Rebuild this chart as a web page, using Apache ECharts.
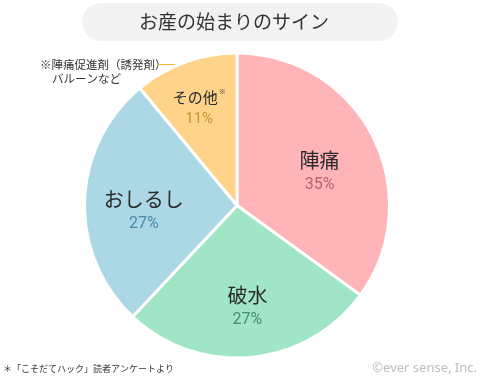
<!DOCTYPE html>
<html lang="ja">
<head>
<meta charset="UTF-8">
<title>お産の始まりのサイン</title>
<script src="https://cdn.jsdelivr.net/npm/echarts@6/dist/echarts.min.js"></script>
<style>
  html, body { margin: 0; padding: 0; background: #fff; }
  #chart { width: 480px; height: 376px; }
</style>
</head>
<body>
<div id="chart"></div>
<script>
  // データ（時計回り、12時から）
  const names = ['陣痛', '破水', 'おしるし', 'その他'];
  const values = [35, 27, 27, 11];
  const sliceColors = ['#ffb4b8', '#a0e5c5', '#acd8e6', '#ffd389'];
  const pctColors = ['#b9606c', '#3f8f6b', '#4a89a6', '#c69433'];
  // ラベル位置の微調整
  const labelShift = [[12, 2], [3, 23], [-14, 8], [-11, -22]];

  const jp = '"Noto Sans CJK JP", "Noto Sans", sans-serif';
  const num = 'Roboto, "Liberation Sans", sans-serif';

  const chart = echarts.init(document.getElementById('chart'));

  chart.setOption({
    animation: false,
    graphic: [
      { type: 'rect', shape: { x: 82, y: 3, width: 316, height: 38, r: 19 }, style: { fill: '#f2f2f2' } },
      { type: 'text', x: 234, y: 22, style: { text: 'お産の始まりのサイン', font: '19px ' + jp, fill: '#333', align: 'center', verticalAlign: 'middle' } },
      { type: 'text', x: 40, y: 65, style: { text: '※陣痛促進剤（誘発剤）', font: '11.5px ' + jp, fill: '#333', verticalAlign: 'middle' } },
      { type: 'text', x: 52, y: 79, style: { text: 'バルーンなど', font: '11.5px ' + jp, fill: '#333', verticalAlign: 'middle' } },
      { type: 'polyline', shape: { points: [[158, 64.5], [182, 64.5], [187, 68.5]] }, style: { stroke: '#f0b43c', lineWidth: 1, fill: null } },
      { type: 'text', x: 3, y: 369, style: { text: '＊「こそだてハック」読者アンケートより', font: '9px ' + jp, fill: '#333', verticalAlign: 'middle' } },
      { type: 'text', x: 477, y: 368, style: { text: '©ever sense, Inc.', font: '13px "Noto Sans", sans-serif', fill: '#bdbdbd', align: 'right', verticalAlign: 'middle' } }
    ],
    series: [{
      type: 'pie',
      center: [237, 205.5],
      radius: [0, 152.5],
      startAngle: 90,
      clockwise: true,
      silent: true,
      itemStyle: { borderColor: '#fff', borderWidth: 3 },
      labelLine: { show: false },
      labelLayout: function (p) {
        const s = labelShift[p.dataIndex];
        return { dx: s[0], dy: s[1] };
      },
      data: names.map((n, i) => {
        const small = i === 3;
        return {
          name: n,
          value: values[i],
          itemStyle: { color: sliceColors[i] },
          label: {
            show: true,
            position: 'inside',
            formatter: small ? '{n|' + n + '}{s|※}\n{p|' + values[i] + '%}' : '{n|' + n + '}\n{p|' + values[i] + '%}',
            rich: {
              n: { fontFamily: jp, fontSize: small ? 15 : 20, lineHeight: small ? 20 : 26, color: '#2a2a2a' },
              s: { fontFamily: jp, fontSize: 7, lineHeight: 20, verticalAlign: 'top', color: '#2a2a2a', padding: [0, 0, 8, 1] },
              p: { fontFamily: num, fontSize: small ? 15 : 16, lineHeight: 23, color: pctColors[i] }
            }
          }
        };
      })
    }]
  });
</script>
</body>
</html>
